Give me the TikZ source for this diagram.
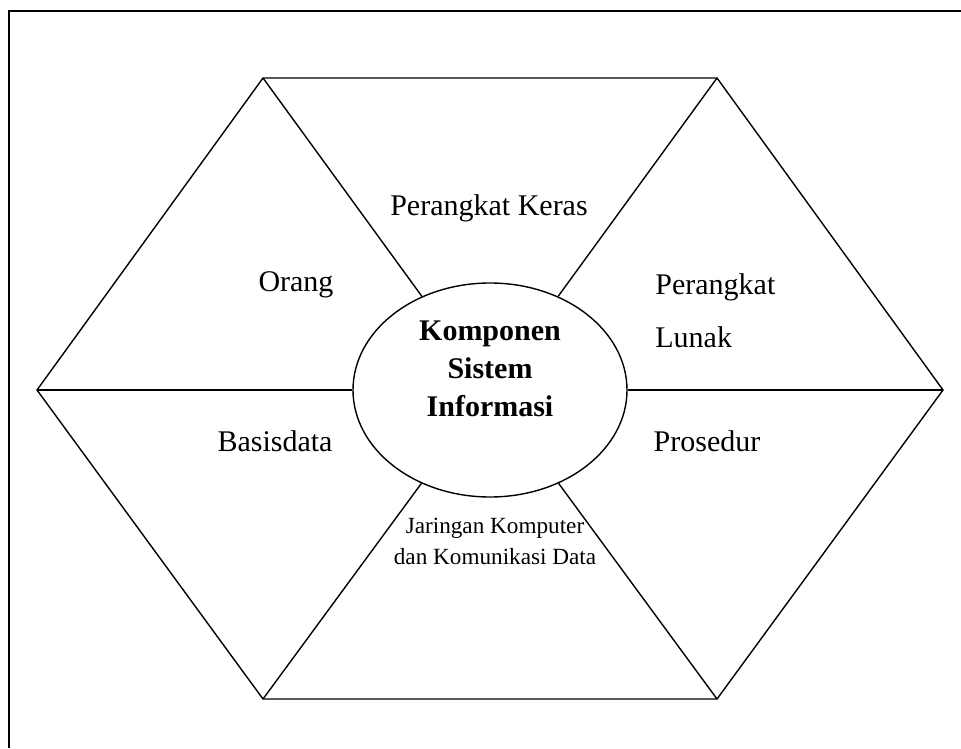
\documentclass[tikz,border=0pt]{standalone}
\usepackage{fontspec}
\setmainfont{Liberation Serif}
\usetikzlibrary{shapes.geometric}
\tikzset{
  edge/.style={line width=0.7pt, line join=miter},
  part/.style={font=\fontsize{15}{18}\selectfont, inner sep=0pt},
  small/.style={font=\fontsize{11.6}{15.5}\selectfont, inner sep=0pt, align=center},
}
\begin{document}
\begin{tikzpicture}[x=0.5pt, y=-0.5pt]
            \useasboundingbox (0,0) rectangle (961,748);
            \draw[line width=1pt] (9,748) -- (9,11) -- (961,11);
            \coordinate (tl) at (263,78);
            \coordinate (tr) at (717,78);
            \coordinate (r) at (943,390);
            \coordinate (br) at (717,699);
            \coordinate (bl) at (263,699);
            \coordinate (l) at (37,390);
            \node[ellipse, draw, edge, minimum width=137pt, minimum height=107pt] (core) at (490,390) {};
            \draw[edge] (tl) -- (tr) -- (r) -- (br) -- (bl) -- (l) -- cycle;
            \foreach \v in {tl,tr,r,br,bl,l}
                \draw[edge] (\v) -- (core);
            \node[part, font=\fontsize{15}{19}\selectfont\bfseries, align=center] (title) at (490,369) {Komponen\\Sistem\\Informasi};
            \node[part] (keras) at (489,208) {Perangkat Keras};
            \node[part] (orang) at (296,285) {Orang};
            \node[part, font=\fontsize{15}{26.5}\selectfont, align=left, anchor=west] (lunak) at (655,311) {Perangkat\\Lunak};
            \node[part] (basis) at (275,441) {Basisdata};
            \node[part] (prosedur) at (707,441) {Prosedur};
            \node[small] (jaringan) at (495,541) {Jaringan Komputer\\dan Komunikasi Data};
\end{tikzpicture}
\end{document}
